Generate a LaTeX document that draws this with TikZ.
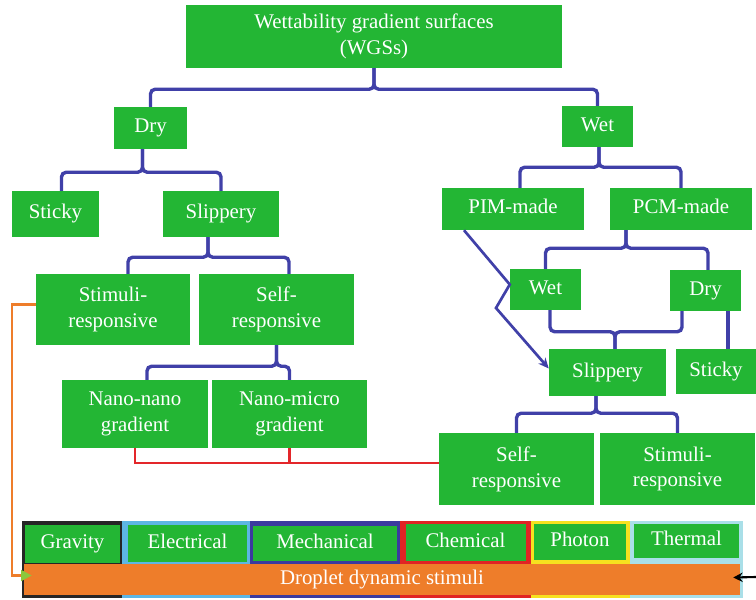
\documentclass[tikz,border=0pt]{standalone}
\usepackage{fontspec}
\setmainfont{Liberation Serif}
\usetikzlibrary{arrows.meta,calc}
\definecolor{leaf}{HTML}{23B634}
\definecolor{linkblue}{HTML}{4040A8}
\definecolor{linkred}{HTML}{E3262A}
\definecolor{barorange}{HTML}{EE7D2A}
\definecolor{tipgreen}{HTML}{8CC83C}
\definecolor{skyframe}{HTML}{5DB6E4}
\definecolor{navyframe}{HTML}{3B3A9E}
\definecolor{redframe}{HTML}{E02424}
\definecolor{goldframe}{HTML}{F6E11F}
\definecolor{iceframe}{HTML}{A9DFE8}

\tikzset{
  box/.style={fill=leaf,text=white,align=center,inner sep=0pt,
    font=\fontsize{17.8}{22}\selectfont},
  chip/.style={box,text height=2.4ex,text depth=.55ex},
  px/.style 2 args={minimum width=#1*0.03cm,minimum height=#2*0.03cm},
  brace/.style={draw=linkblue,line width=2.9pt,rounded corners=4pt},
  link/.style={draw=linkblue,line width=2.9pt},
  redlink/.style={draw=linkred,line width=2.5pt},
}

\begin{document}
\begin{tikzpicture}[x=0.03cm,y=-0.03cm]
  \useasboundingbox (0,0) rectangle (756,600);

  % tree boxes
  \node[box,px={376}{63}] (wgs) at (374,36.5) {Wettability gradient surfaces\\(WGSs)};
  \node[chip,px={73}{42}] (dry) at (150.5,128) {Dry};
  \node[chip,px={71}{41}] (wet) at (597.5,126.5) {Wet};
  \node[chip,px={87}{46}] (sticky) at (55.5,214) {Sticky};
  \node[chip,px={116}{46}] (slippery) at (221,214) {Slippery};
  \node[chip,px={142}{42}] (pim) at (513,209) {PIM-made};
  \node[chip,px={142}{42}] (pcm) at (681,209) {PCM-made};
  \node[box,px={154}{71}] (stim1) at (113,309.5) {Stimuli-\\responsive};
  \node[box,px={155}{71}] (self1) at (276.5,309.5) {Self-\\responsive};
  \node[box,px={146}{68}] (nn) at (135,414) {Nano-nano\\gradient};
  \node[box,px={155}{68}] (nm) at (289.5,414) {Nano-micro\\gradient};
  \node[chip,px={71}{41}] (wet2) at (545.5,289.5) {Wet};
  \node[chip,px={71}{41}] (dry2) at (705.5,290.5) {Dry};
  \node[chip,px={117}{47}] (slip2) at (607.5,372.5) {Slippery};
  \node[chip,px={80}{45}] (sticky2) at (716,371.5) {Sticky};
  \node[box,px={155}{72}] (self2) at (516.5,469) {Self-\\responsive};
  \node[box,px={155}{72}] (stim2) at (677.5,469) {Stimuli-\\responsive};

  % braces
  \draw[brace] (dry.north) |- ($(wgs.south)+(0,21)$) -- (wgs.south);
  \draw[brace] (wet.north) |- ($(wgs.south)+(0,21)$) -- (wgs.south);
  \draw[brace] ($(sticky.north)+(6,0)$) |- ($(dry.south)+(-8,23)$) -- ($(dry.south)+(-8,0)$);
  \draw[brace] (slippery.north) |- ($(dry.south)+(-8,23)$) -- ($(dry.south)+(-8,0)$);
  \draw[brace] ($(pim.north)+(7,0)$) |- ($(wet.south)+(1.5,20)$) -- ($(wet.south)+(1.5,0)$);
  \draw[brace] (pcm.north) |- ($(wet.south)+(1.5,20)$) -- ($(wet.south)+(1.5,0)$);
  \draw[brace] ($(stim1.north)+(15,0)$) |- ($(slippery.south)+(-13,20)$) -- ($(slippery.south)+(-13,0)$);
  \draw[brace] ($(self1.north)+(12.5,0)$) |- ($(slippery.south)+(-13,20)$) -- ($(slippery.south)+(-13,0)$);
  \draw[brace] ($(nn.north)+(12,0)$) |- ($(self1.south)+(0,21)$) -- (self1.south);
  \draw[brace] (nm.north) |- ($(self1.south)+(0,21)$) -- (self1.south);
  \draw[brace] (wet2.north) |- ($(pcm.south)+(-55,18)$) -- ($(pcm.south)+(-55,0)$);
  \draw[brace] ($(dry2.north)+(2.5,0)$) |- ($(pcm.south)+(-55,18)$) -- ($(pcm.south)+(-55,0)$);
  \draw[brace] ($(wet2.south)+(4.5,0)$) |- ($(slip2.north)+(7.5,-17)$) -- ($(slip2.north)+(7.5,0)$);
  \draw[brace] ($(dry2.south)+(-23.5,0)$) |- ($(slip2.north)+(7.5,-17)$) -- ($(slip2.north)+(7.5,0)$);
  \draw[brace] (self2.north) |- ($(slip2.south)+(-11.5,17)$) -- ($(slip2.south)+(-11.5,0)$);
  \draw[brace] (stim2.north) |- ($(slip2.south)+(-11.5,17)$) -- ($(slip2.south)+(-11.5,0)$);
  \draw[link] ($(dry2.south)+(22.5,0)$) -- ($(sticky2.north)+(12,0)$);
  \draw[link,line width=2.3pt,-{Stealth[length=9pt,width=8pt]}]
    ($(pim.south)+(-49,0)$) -- ($(wet2.west)+(0,-5)$) -- (496,308) -- ($(slip2.west)+(0,-4)$);

  % red join
  \coordinate (redbar) at ($(self2.west)+(0,-6)$);
  \draw[redlink] (nn.south) |- (redbar);
  \draw[redlink] (nm.south) -- (nm.south |- redbar);

  % stimuli strip
  \fill[black!85] (22,521) rectangle (122,598);
  \fill[skyframe] (122,521) rectangle (250,598);
  \fill[navyframe] (250,521) rectangle (400,598);
  \fill[redframe] (400,521) rectangle (531,598);
  \fill[goldframe] (531,521) rectangle (630,598);
  \fill[iceframe] (630,521) rectangle (743,598);
  \node[chip,px={95}{38}] (grav) at (72.5,543.5) {Gravity};
  \node[chip,px={119}{37}] (elec) at (187.5,543.5) {Electrical};
  \node[chip,px={144}{35}] (mech) at (325,543.5) {Mechanical};
  \node[chip,px={120}{37}] (chem) at (465.5,542.5) {Chemical};
  \node[chip,px={92}{36}] (phot) at (580,542) {Photon};
  \node[chip,px={105}{34}] (therm) at (686.5,541) {Thermal};
  \node[chip,fill=barorange,px={716}{31}] (drop) at (382,579.5) {Droplet dynamic stimuli};

  % feedback arrows
  \draw[barorange,line width=2.2pt,-{Triangle[color=tipgreen,length=9pt,width=9pt]}]
    ($(stim1.west)+(0,-5)$) -- (12,304.5) |- ($(drop.west)+(8,-4)$);
  \coordinate (rimright) at (756,577);
  \draw[black,line width=1.8pt,-{Stealth[length=8pt,width=8pt]}] (rimright) -- ($(drop.east)+(-7,-2)$);
\end{tikzpicture}
\end{document}
